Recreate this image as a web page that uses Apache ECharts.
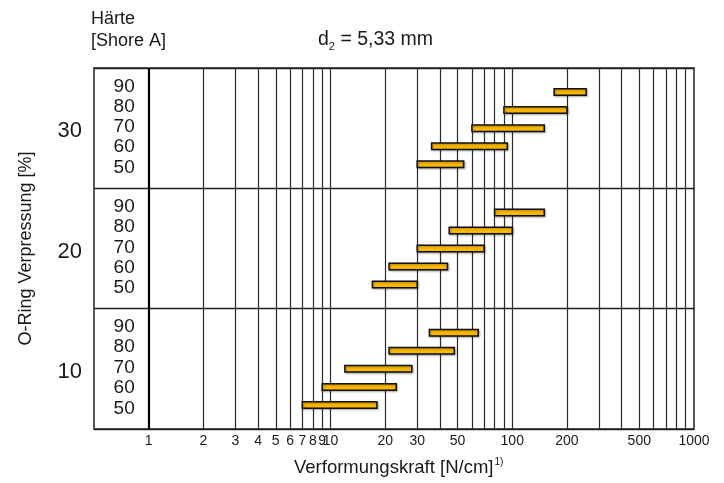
<!DOCTYPE html>
<html>
<head>
<meta charset="utf-8">
<script src="https://cdn.jsdelivr.net/npm/echarts@6/dist/echarts.min.js"></script>
<style>
  html, body { margin: 0; padding: 0; background: #fff; }
  #chart { width: 724px; height: 483px; }
</style>
</head>
<body>
<div id="chart"></div>
<script>
// O-Ring compression groups in %, bottom to top
const compression = [10, 20, 30];
// Shore A hardness rows inside each group, bottom to top
const hardness = [50, 60, 70, 80, 90];
// Deformation force ranges [from, to] in N/cm, one pair per hardness row
const force10 = [[7, 18], [9, 23], [12, 28], [21, 48], [35, 65]];
const force20 = [[17, 30], [21, 44], [30, 70], [45, 100], [80, 150]];
const force30 = [[30, 54], [36, 94], [60, 150], [90, 200], [170, 255]];
// vertical grid lines on the logarithmic force axis
const gridValues = [2, 3, 4, 5, 6, 7, 8, 9, 10, 20, 30, 40, 50, 60, 70, 80, 90,
                    100, 200, 300, 400, 500, 600, 700, 800, 900];
// labelled force ticks
const tickLabels = [1, 2, 3, 4, 5, 6, 7, 8, 9, 10, 20, 30, 50, 100, 200, 500, 1000];

// each compression group occupies 10 units of the y axis
const groupSpan = 10;
const groupLabelRow = 4.75;                      // group caption, slightly below centre
const barRows = [2, 3.5, 5, 6.5, 8];             // bar centre inside a group
const labelRows = [1.72, 3.42, 5.1, 6.8, 8.48];  // hardness text inside a group

const forces = [force10, force20, force30];
const barData = [];
const labelData = [];
compression.forEach((c, g) => {
  hardness.forEach((h, k) => {
    const f = forces[g][k];
    barData.push([f[0], f[1], g * groupSpan + barRows[k], h]);
    labelData.push([1, g * groupSpan + labelRows[k], h]);
  });
});

const FONT = '"Liberation Sans", Arial, Helvetica, sans-serif';
const chart = echarts.init(document.getElementById('chart'));

chart.setOption({
  animation: false,
  backgroundColor: '#fff',
  textStyle: { fontFamily: FONT, color: '#1a1a1a' },
  grid: {
    left: 94, right: 30, top: 68, bottom: 54,
    show: true, borderColor: '#222', borderWidth: 1.5,
    outerBoundsMode: 'none'
  },
  xAxis: {
    type: 'log',
    logBase: 10,
    min: 0.5,
    max: 1000,
    axisLine: { show: false },
    axisTick: { show: false },
    splitLine: { show: false },
    minorSplitLine: { show: false },
    axisLabel: {
      customValues: tickLabels,
      formatter: v => String(Math.round(v)),
      fontSize: 14,
      color: '#1a1a1a',
      margin: 5
    }
  },
  yAxis: {
    type: 'value',
    min: 0,
    max: compression.length * groupSpan,
    interval: groupSpan,
    axisLine: { show: false },
    axisTick: { show: false },
    splitLine: { show: true, lineStyle: { color: '#222', width: 1.3 } },
    axisLabel: {
      customValues: compression.map((c, g) => g * groupSpan + groupLabelRow),
      formatter: v => String(compression[Math.floor(v / groupSpan)]),
      fontSize: 22,
      color: '#1a1a1a',
      margin: 12
    },
    name: 'O-Ring Verpressung [%]',
    nameLocation: 'middle',
    nameRotate: 90,
    nameGap: 59,
    nameTextStyle: { fontSize: 18, color: '#1a1a1a' }
  },
  graphic: [
    {
      type: 'text', left: 91, top: 8,
      style: { text: 'Härte\n[Shore A]', font: '18px ' + FONT, fill: '#1a1a1a', lineHeight: 22 }
    },
    {
      type: 'text', left: 318, top: 30,
      style: {
        text: '{a|d}{s|2}{a| = 5,33 mm}',
        rich: {
          a: { font: '19.5px ' + FONT, fill: '#1a1a1a', lineHeight: 22, verticalAlign: 'top' },
          s: { font: '11px ' + FONT, fill: '#1a1a1a', lineHeight: 11, verticalAlign: 'bottom' }
        }
      }
    },
    {
      type: 'text', left: 294, top: 457,
      style: {
        text: '{a|Verformungskraft [N/cm]}{s|1)}',
        rich: {
          a: { font: '18.5px ' + FONT, fill: '#1a1a1a', lineHeight: 20, verticalAlign: 'bottom' },
          s: { font: '10px ' + FONT, fill: '#1a1a1a', lineHeight: 10, verticalAlign: 'top', padding: [0, 0, 0, 1] }
        }
      }
    }
  ],
  series: [
    {
      // hardness labels in the left column, plus the vertical grid lines
      type: 'custom',
      z: 2,
      silent: true,
      data: labelData,
      encode: { x: 0, y: 1 },
      renderItem: (params, api) => {
        const p = api.coord([api.value(0), api.value(1)]);
        return {
          type: 'text',
          style: {
            x: p[0] - 14, y: p[1],
            text: String(api.value(2)),
            font: '19px ' + FONT,
            fill: '#1a1a1a',
            align: 'right',
            verticalAlign: 'middle'
          }
        };
      },
      markLine: {
        silent: true,
        symbol: ['none', 'none'],
        label: { show: false },
        lineStyle: { color: '#2a2a2a', width: 1.2, type: 'solid' },
        data: gridValues.map(v => ({ xAxis: v }))
          .concat([{ xAxis: 1, lineStyle: { color: '#000', width: 2.2, type: 'solid' } }])
      }
    },
    {
      // force ranges as horizontal bars
      type: 'custom',
      z: 5,
      data: barData,
      encode: { x: [0, 1], y: 2 },
      renderItem: (params, api) => {
        const a = api.coord([api.value(0), api.value(2)]);
        const b = api.coord([api.value(1), api.value(2)]);
        const h = 6.5;
        return {
          type: 'rect',
          shape: { x: a[0], y: a[1] - h / 2, width: b[0] - a[0], height: h },
          style: {
            fill: '#FBB800',
            stroke: '#111',
            lineWidth: 1.5,
            shadowColor: 'rgba(0,0,0,0.3)',
            shadowBlur: 2,
            shadowOffsetX: 1,
            shadowOffsetY: 1
          }
        };
      }
    }
  ]
});
</script>
</body>
</html>
